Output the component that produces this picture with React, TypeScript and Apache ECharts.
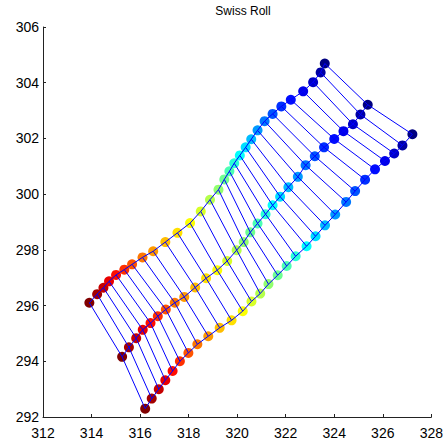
import React, { useEffect, useRef } from "react";
import * as echarts from "echarts";

// Embedded grid nodes: three rows of 30 nodes each (upper, middle, lower).
const upperX = [313.91, 314.23, 314.49, 314.72, 315.01, 315.35, 315.67, 316.10, 316.54, 317.04, 317.54, 318.06, 318.50, 318.88, 319.23, 319.47, 319.68, 319.88, 320.11, 320.35, 320.58, 320.84, 321.13, 321.46, 321.82, 322.21, 322.72, 323.13, 323.44, 323.61];
const upperY = [296.10, 296.41, 296.64, 296.87, 297.10, 297.29, 297.48, 297.73, 297.95, 298.28, 298.61, 298.96, 299.38, 299.80, 300.16, 300.53, 300.82, 301.11, 301.39, 301.68, 301.97, 302.29, 302.62, 302.88, 303.15, 303.39, 303.69, 304.02, 304.37, 304.69];
const middleX = [315.26, 315.54, 315.84, 316.11, 316.43, 316.73, 317.06, 317.43, 317.82, 318.27, 318.72, 319.18, 319.59, 319.98, 320.27, 320.54, 320.84, 321.17, 321.46, 321.77, 322.11, 322.50, 322.82, 323.20, 323.58, 324.00, 324.38, 324.77, 325.08, 325.38];
const middleY = [294.16, 294.50, 294.83, 295.13, 295.37, 295.62, 295.86, 296.10, 296.31, 296.65, 296.98, 297.27, 297.60, 297.99, 298.28, 298.63, 298.95, 299.28, 299.60, 299.91, 300.25, 300.62, 301.04, 301.36, 301.68, 301.98, 302.26, 302.51, 302.86, 303.21];
const lowerX = [316.21, 316.48, 316.77, 317.04, 317.34, 317.64, 317.99, 318.36, 318.81, 319.28, 319.77, 320.23, 320.59, 320.95, 321.29, 321.67, 322.04, 322.41, 322.86, 323.23, 323.62, 324.04, 324.49, 324.86, 325.27, 325.68, 326.09, 326.47, 326.81, 327.22];
const lowerY = [292.30, 292.66, 293.00, 293.32, 293.65, 294.00, 294.30, 294.61, 294.90, 295.20, 295.47, 295.80, 296.15, 296.43, 296.77, 297.09, 297.42, 297.77, 298.13, 298.49, 298.88, 299.27, 299.72, 300.11, 300.52, 300.89, 301.19, 301.46, 301.75, 302.15];

const xTicks = { min: 312, max: 328, step: 2 };
const yTicks = { min: 292, max: 306, step: 2 };

const FONT = "'Liberation Sans', Arial, Helvetica, sans-serif";

function clamp01(v: number) {
  return Math.max(0, Math.min(1, v));
}

// Classic "jet" colormap.
function jet(t: number) {
  const r = clamp01(1.5 - Math.abs(4 * t - 3));
  const g = clamp01(1.5 - Math.abs(4 * t - 2));
  const b = clamp01(1.5 - Math.abs(4 * t - 1));
  return `rgb(${Math.round(r * 255)},${Math.round(g * 255)},${Math.round(b * 255)})`;
}

const rows = [
  { xs: upperX, ys: upperY },
  { xs: middleX, ys: middleY },
  { xs: lowerX, ys: lowerY },
];

export default function App() {
  const ref = useRef<HTMLDivElement>(null);

  useEffect(() => {
    if (!ref.current) return;
    const chart = echarts.init(ref.current, undefined, { renderer: "svg" });
    const n = upperX.length;

    const points: any[] = [];
    rows.forEach((row) => {
      row.xs.forEach((x, i) => {
        points.push({
          value: [x, row.ys[i]],
          itemStyle: { color: jet(1 - i / (n - 1)), opacity: 1 },
        });
      });
    });

    const segments: any[] = [];
    // each column: upper -> middle -> lower
    for (let i = 0; i < n; i++) {
      segments.push({ coords: rows.map((r) => [r.xs[i], r.ys[i]]) });
    }
    // each row along the roll
    rows.forEach((r) => {
      segments.push({ coords: r.xs.map((x, i) => [x, r.ys[i]]) });
    });

    chart.setOption({
      animation: false,
      backgroundColor: "#ffffff",
      title: {
        text: "Swiss Roll",
        left: 238,
        textAlign: "center",
        top: 0,
        textStyle: { fontFamily: FONT, fontSize: 12, fontWeight: "normal", color: "#000" },
      },
      grid: { left: 43, right: 12, top: 27, bottom: 25 },
      xAxis: {
        type: "value",
        min: xTicks.min,
        max: xTicks.max,
        interval: xTicks.step,
        axisLine: { show: true, lineStyle: { color: "#222", width: 1 } },
        axisTick: { show: true, inside: true, length: 3, lineStyle: { color: "#222" } },
        axisLabel: { fontFamily: FONT, fontSize: 14, color: "#000", margin: 9 },
        splitLine: { show: false },
      },
      yAxis: {
        type: "value",
        min: yTicks.min,
        max: yTicks.max,
        interval: yTicks.step,
        axisLine: { show: true, lineStyle: { color: "#222", width: 1 } },
        axisTick: { show: true, inside: true, length: 3, lineStyle: { color: "#222" } },
        axisLabel: { fontFamily: FONT, fontSize: 14, color: "#000", margin: 4 },
        splitLine: { show: false },
      },
      series: [
        {
          type: "scatter",
          data: points,
          symbolSize: 10,
          itemStyle: { opacity: 1 },
          z: 2,
        },
        {
          type: "lines",
          coordinateSystem: "cartesian2d",
          polyline: true,
          data: segments,
          lineStyle: { color: "#0000ff", width: 1, opacity: 1 },
          z: 3,
        },
      ],
    });

    return () => chart.dispose();
  }, []);

  return (
    <div
      ref={ref}
      style={{ position: "absolute", left: 0, top: 0, width: 446, height: 442 }}
    />
  );
}
